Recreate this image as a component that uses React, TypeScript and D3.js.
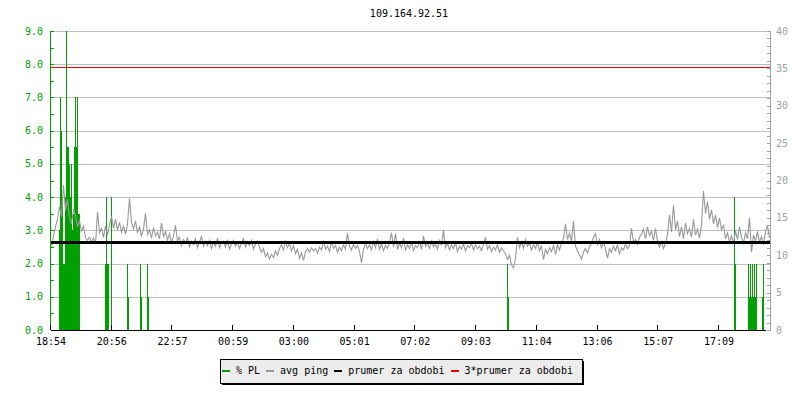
import React from "react";
import * as d3 from "d3";

// ---- data ----
const title = "109.164.92.51";
const xTickLabels = ["18:54", "20:56", "22:57", "00:59", "03:00", "05:01", "07:02", "09:03", "11:04", "13:06", "15:07", "17:09"];
const tickStepMin = 121.45; // minutes between time labels
const totalMinutes = 1440;
const pingStepMin = 4;

// avg ping (ms, right axis), one sample every 4 minutes
const avgPing = [
  11.0, 12.6, 13.8, 14.8, 16.5, 15.2, 19.4, 16.0, 17.5, 15.0,
  14.2, 16.2, 15.3, 13.8, 14.6, 13.2, 13.9, 12.3, 12.0, 12.4,
  11.8, 12.3, 11.5, 15.8, 13.0, 13.6, 12.4, 13.9, 12.7, 14.1,
  15.2, 13.6, 14.8, 13.4, 14.4, 13.1, 13.9, 12.8, 14.2, 17.6,
  14.4, 13.5, 14.6, 13.0, 13.8, 12.6, 13.5, 15.6, 12.8, 13.4,
  12.3, 13.7, 12.6, 13.1, 12.2, 14.3, 12.5, 13.2, 12.0, 12.9,
  11.7, 12.6, 14.0, 11.9, 12.4, 11.3, 12.1, 11.6, 12.3, 11.1,
  11.9, 11.4, 12.2, 11.0, 11.8, 12.5, 11.2, 11.9, 11.3, 12.0,
  10.9, 11.7, 11.2, 12.3, 11.0, 11.6, 11.9, 11.1, 12.1, 10.8,
  11.5, 12.0, 11.2, 11.8, 10.9, 11.6, 12.2, 11.1, 11.7, 11.3,
  12.0, 10.8, 11.5, 11.9, 11.1, 10.4, 10.9, 9.8, 10.3, 9.5,
  10.1, 9.7, 10.6, 10.0, 10.9, 11.4, 10.7, 11.8, 11.0, 11.6,
  10.6, 11.3, 10.2, 10.8, 9.6, 10.3, 9.3, 10.5, 10.9, 10.4,
  11.0, 10.6, 10.9, 10.3, 11.1, 10.7, 12.0, 10.8, 11.2, 10.5,
  11.9, 10.9, 11.3, 10.4, 11.1, 10.6, 11.4, 10.8, 13.0, 11.2,
  10.7, 11.5, 10.9, 11.3, 10.5, 9.0, 10.8, 11.6, 10.9, 11.4,
  10.7, 11.8, 11.0, 12.2, 10.8, 11.5, 10.6, 11.3, 10.9, 11.7,
  13.0, 11.1, 12.9, 10.8, 11.6, 11.0, 12.3, 10.7, 11.4, 10.9,
  11.7, 10.6, 11.3, 11.0, 11.8, 10.8, 12.6, 11.2, 11.6, 10.9,
  11.9, 11.1, 11.5, 10.8, 12.0, 11.3, 13.4, 11.0, 11.6, 10.7,
  11.4, 10.9, 11.7, 10.5, 11.2, 10.8, 11.5, 10.6, 11.3, 11.0,
  11.6, 10.7, 11.4, 10.9, 11.2, 10.6, 11.5, 12.4, 10.8, 11.3,
  10.5, 11.1, 10.7, 11.4, 10.4, 11.0, 10.6, 10.2, 9.4, 10.0,
  8.7, 8.3, 9.6, 12.4, 11.0, 11.8, 10.9, 12.1, 11.2, 11.6,
  10.7, 11.4, 10.9, 11.7, 10.6, 11.3, 9.4, 10.8, 10.2, 11.0,
  10.5, 11.3, 10.1, 11.4, 10.7, 11.6, 12.3, 14.2, 12.1, 13.0,
  11.8, 14.6, 11.2, 10.6, 10.0, 9.5, 10.4, 10.9, 10.3, 11.1,
  11.6, 12.4, 12.9, 11.3, 12.1, 11.0, 11.8, 10.8, 9.6, 10.9,
  10.4, 11.2, 10.6, 11.4, 10.2, 11.0, 10.7, 11.5, 10.9, 11.3,
  13.6, 11.7, 12.1, 11.4, 12.4, 12.8, 13.5, 12.2, 13.8, 12.6,
  13.2, 12.0, 13.6, 11.9, 11.1, 11.8, 10.9, 11.6, 12.8, 15.4,
  13.1, 16.7, 13.4, 14.6, 12.5, 13.8, 12.2, 14.3, 12.9, 13.6,
  12.4, 14.8, 12.7, 13.5, 12.3, 14.0, 18.6, 15.6, 17.2, 14.8,
  16.1, 14.2, 15.4, 13.7, 15.0, 13.4, 14.1, 12.2, 13.0, 11.8,
  12.6, 11.5, 13.3, 12.1, 13.8, 12.4, 11.6, 13.0, 12.2, 15.0,
  10.4, 12.7, 11.9, 13.2, 11.7, 12.5, 11.4, 13.1, 14.0, 12.3,
];

// packet loss (% , left axis): 2-minute slot index and value
const plSlots = [
  8, 9, 10, 11, 12, 13, 14, 15, 16, 17, 18, 19, 20, 21, 22, 23, 24, 25, 26, 27, 28,
  54, 55, 56, 57, 60, 76, 77, 89, 90, 96, 97,
  456, 457,
  683, 684, 697, 698, 699, 700, 701, 702, 703, 704, 705, 711, 712,
];
const plValues = [
  3.0, 7.0, 6.0, 4.0, 2.0, 2.0, 4.0, 9.0, 5.5, 5.5, 5.0, 4.0, 5.0, 3.0, 3.5, 5.5, 7.0, 5.5, 7.0, 3.5, 3.5,
  2.0, 4.0, 2.0, 2.0, 4.0, 2.0, 1.0, 2.0, 1.0, 2.0, 1.0,
  2.0, 1.0,
  4.0, 2.0, 2.0, 1.0, 2.0, 1.0, 2.0, 1.0, 2.0, 1.0, 2.0, 1.0, 2.0,
];
const plSlotMin = 2;

const prumer = 11.72;
const prumer3 = 35.16;

const leftTicks = d3.range(0, 9.01, 0.5);
const leftLabels = d3.range(0, 9.01, 1);
const rightTicks = d3.range(0, 40.01, 1);
const rightLabels = d3.range(0, 40.01, 5);

const legendItems = [
  { label: "% PL", color: "#00a000" },
  { label: "avg ping", color: "#999999" },
  { label: "prumer za obdobi", color: "#000000" },
  { label: "3*prumer za obdobi", color: "#ff0000" },
];

// ---- layout ----
const W = 800, H = 400;
const X0 = 51, X1 = 771, Y0 = 330, Y1 = 31;
const FONT = "'DejaVu Sans Mono', monospace";
const GREEN = "#00a000";
const GRAY = "#a0a0a0";
const CHAR_W = 6.02;

export default function App() {
  const x = d3.scaleLinear().domain([0, totalMinutes]).range([X0, X1]);
  const yL = d3.scaleLinear().domain([0, 9]).range([Y0, Y1]);
  const yR = d3.scaleLinear().domain([0, 40]).range([Y0, Y1]);
  const pr = (v: number) => Math.round(v) + 0.5;

  const line = d3
    .line<number>()
    .x((_, i) => x(i * pingStepMin) + 0.5)
    .y((d) => yR(d));

  // legend layout
  let cur = 222;
  const legend = legendItems.map((it) => {
    const sx = cur;
    const tx = cur + 14;
    cur = tx + it.label.length * CHAR_W + 6;
    return { ...it, sx, tx };
  });
  const boxX = 220, boxY = 359, boxW = cur - 6 + 9 - boxX, boxH = 24;

  return (
    <svg
      width={W}
      height={H}
      style={{ position: "absolute", left: 0, top: 0, background: "#ffffff" }}
      fontFamily={FONT}
      fontSize={10}
    >
      <rect x={0} y={0} width={W} height={H} fill="#ffffff" />
      <text x={409} y={17} textAnchor="middle" fill="#000">{title}</text>

      {/* grid */}
      <g shapeRendering="crispEdges">
        {leftLabels.filter((v) => v > 0).map((v) => (
          <line key={v} x1={X0} x2={770} y1={pr(yL(v))} y2={pr(yL(v))} stroke="#c0c0c0" />
        ))}
      </g>

      {/* packet loss bars */}
      <g shapeRendering="crispEdges" fill={GREEN}>
        {plSlots.map((s, i) => {
          const xx = Math.round(x(s * plSlotMin));
          const yy = Math.round(yL(plValues[i]));
          return <rect key={i} x={xx} y={yy} width={1} height={Y0 - yy} />;
        })}
      </g>

      {/* avg ping */}
      <path d={line(avgPing) || ""} fill="none" stroke="#999999" strokeWidth={1.1} />

      {/* average lines */}
      <g shapeRendering="crispEdges">
        <line x1={X0} x2={770} y1={Math.round(yR(prumer))} y2={Math.round(yR(prumer))} stroke="#000" strokeWidth={3} />
        <line x1={X0} x2={770} y1={pr(yR(prumer3))} y2={pr(yR(prumer3))} stroke="#ff0000" strokeWidth={1} />
      </g>

      {/* left axis */}
      <g shapeRendering="crispEdges">
        <line x1={pr(X0) - 1} x2={pr(X0) - 1} y1={Y1} y2={Y0} stroke={GREEN} />
        {leftTicks.map((v) => (
          <line key={v} x1={X0} x2={X0 + 3} y1={pr(yL(v))} y2={pr(yL(v))} stroke={GREEN} />
        ))}
      </g>
      {leftLabels.map((v) => (
        <text key={v} x={43} y={yL(v) + 3.5} textAnchor="end" fill={GREEN}>{v.toFixed(1)}</text>
      ))}

      {/* right axis */}
      <g shapeRendering="crispEdges">
        <line x1={770.5} x2={770.5} y1={Y1} y2={Y0 + 1} stroke={GRAY} />
        {rightTicks.map((v) => (
          <line key={v} x1={767} x2={770} y1={pr(yR(v))} y2={pr(yR(v))} stroke={GRAY} />
        ))}
      </g>
      {rightLabels.map((v) => (
        <text key={v} x={776} y={yR(v) + 3.5} textAnchor="start" fill={GRAY}>{v}</text>
      ))}

      {/* bottom axis */}
      <g shapeRendering="crispEdges">
        <line x1={X0} x2={766} y1={Y0 + 0.5} y2={Y0 + 0.5} stroke="#000" />
        {xTickLabels.map((_, k) => {
          const xx = pr(x(k * tickStepMin)) - 1;
          return <line key={k} x1={xx} x2={xx} y1={Y0 - 5} y2={Y0} stroke="#000" />;
        })}
      </g>
      {xTickLabels.map((lab, k) => (
        <text key={lab} x={x(k * tickStepMin)} y={345} textAnchor="middle" fill="#000">{lab}</text>
      ))}

      {/* legend */}
      <g shapeRendering="crispEdges">
        <rect x={boxX + 2} y={boxY + 2} width={boxW} height={boxH} fill="#000" />
        <rect x={boxX + 0.5} y={boxY + 0.5} width={boxW} height={boxH} fill="#ececec" stroke="#000" />
        {legend.map((it) => (
          <rect key={it.label} x={it.sx} y={370} width={8} height={2} fill={it.color} />
        ))}
      </g>
      {legend.map((it) => (
        <text key={it.label} x={it.tx} y={374} fill="#000">{it.label}</text>
      ))}
    </svg>
  );
}
